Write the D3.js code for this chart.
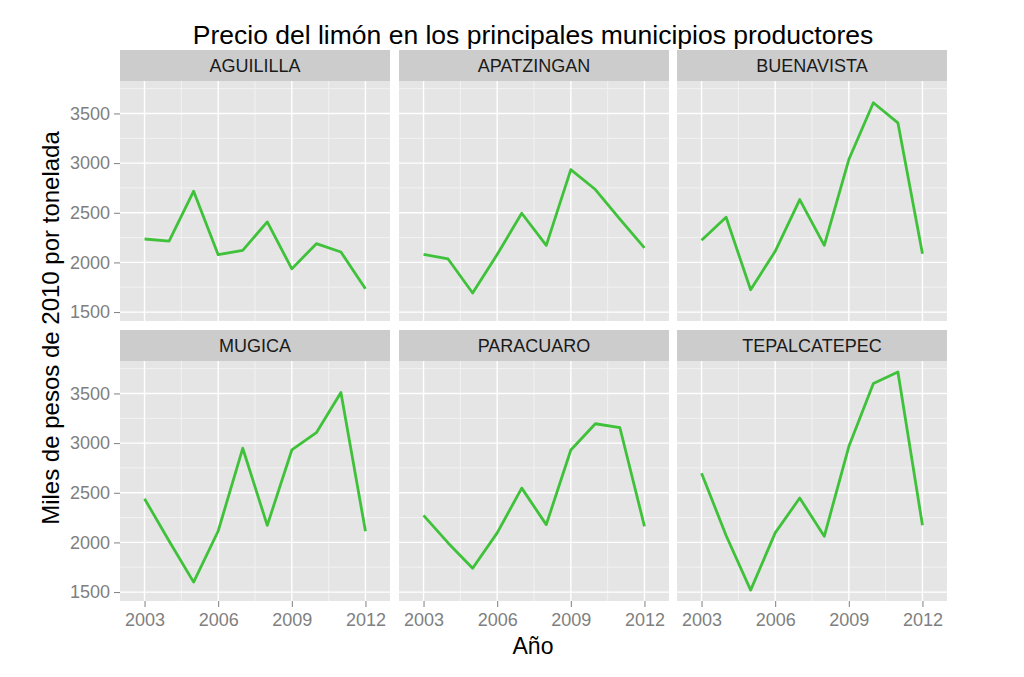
<!DOCTYPE html>
<html>
<head>
<meta charset="utf-8">
<script src="https://cdnjs.cloudflare.com/ajax/libs/d3/7.8.5/d3.min.js"></script>
<style>
  body { margin: 0; background: #fff; }
  text { font-family: "Liberation Sans", Arial, sans-serif; }
</style>
</head>
<body>
<div id="chart"></div>
<script>
// DATA -------------------------------------------------------------------------
const years = [2003, 2004, 2005, 2006, 2007, 2008, 2009, 2010, 2011, 2012]
const municipios = ["AGUILILLA", "APATZINGAN", "BUENAVISTA", "MUGICA", "PARACUARO", "TEPALCATEPEC"]

const aguililla    = [2236, 2215, 2717, 2078, 2122, 2408, 1935, 2189, 2105, 1735]
const apatzingan   = [2081, 2035, 1692, 2080, 2495, 2172, 2935, 2734, 2435, 2146]
const buenavista   = [2223, 2455, 1725, 2112, 2633, 2172, 3036, 3608, 3406, 2088]
const mugica       = [2440, 2015, 1600, 2115, 2948, 2172, 2931, 3105, 3510, 2112]
const paracuaro    = [2272, 1995, 1740, 2096, 2547, 2179, 2931, 3195, 3155, 2162]
const tepalcatepec = [2697, 2070, 1520, 2096, 2447, 2062, 2965, 3600, 3717, 2172]

const seriesValues = [aguililla, apatzingan, buenavista, mugica, paracuaro, tepalcatepec]

const yTicks = [1500, 2000, 2500, 3000, 3500]
const yMinor = [1750, 2250, 2750, 3250, 3750]
const xTicks = [2003, 2006, 2009, 2012]
const xMinor = [2004.5, 2007.5, 2010.5]

// LAYOUT -------------------------------------------------------------------------
const width = 1024, height = 677
const colX = [120, 399, 677]   // panel left edges
const panelW = 270
const rowY = [50, 330]         // strip top edges
const stripH = 31
const panelH = 240
const font = '"Liberation Sans", Arial, sans-serif'

const svg = d3.select("#chart").append("svg")
  .attr("width", width)
  .attr("height", height)

// Scales (shared across facets)
const allVals = seriesValues.flat()
const yMin = d3.min(allVals), yMax = d3.max(allVals)
const yPad = (yMax - yMin) * 0.05
const x = d3.scaleLinear().domain([2002, 2013]).range([0, panelW])
const y = d3.scaleLinear().domain([yMin - yPad, yMax + yPad]).range([panelH, 0])

const line = d3.line()
  .x((d, i) => x(years[i]))
  .y(d => y(d))

municipios.forEach((name, k) => {
  const col = k % 3, row = Math.floor(k / 3)
  const g = svg.append("g")
    .attr("transform", `translate(${colX[col]},${rowY[row]})`)

  // strip
  g.append("rect")
    .attr("width", panelW).attr("height", stripH)
    .attr("fill", "#cccccc")
  g.append("text")
    .attr("x", panelW / 2).attr("y", stripH / 2 + 6.5)
    .attr("text-anchor", "middle")
    .attr("font-size", 18)
    .attr("fill", "#1a1a1a")
    .text(name)

  const p = g.append("g").attr("transform", `translate(0,${stripH})`)
  p.append("rect")
    .attr("width", panelW).attr("height", panelH)
    .attr("fill", "#e5e5e5")

  // minor grid
  p.selectAll(".ymin").data(yMinor.filter(v => y(v) >= 0)).enter().append("line")
    .attr("x1", 0).attr("x2", panelW)
    .attr("y1", d => y(d)).attr("y2", d => y(d))
    .attr("stroke", "#f2f2f2").attr("stroke-width", 1)
  p.selectAll(".xmin").data(xMinor).enter().append("line")
    .attr("y1", 0).attr("y2", panelH)
    .attr("x1", d => x(d)).attr("x2", d => x(d))
    .attr("stroke", "#f2f2f2").attr("stroke-width", 1)

  // major grid
  p.selectAll(".ymaj").data(yTicks).enter().append("line")
    .attr("x1", 0).attr("x2", panelW)
    .attr("y1", d => y(d)).attr("y2", d => y(d))
    .attr("stroke", "#ffffff").attr("stroke-width", 1.4)
  p.selectAll(".xmaj").data(xTicks).enter().append("line")
    .attr("y1", 0).attr("y2", panelH)
    .attr("x1", d => x(d)).attr("x2", d => x(d))
    .attr("stroke", "#ffffff").attr("stroke-width", 1.4)

  // data line
  p.append("path")
    .datum(seriesValues[k])
    .attr("d", line)
    .attr("fill", "none")
    .attr("stroke", "#3fc23a")
    .attr("stroke-width", 2.8)
    .attr("stroke-linejoin", "round")

  // y axis on first column
  if (col === 0) {
    const ya = p.append("g")
      .call(d3.axisLeft(y).tickValues(yTicks).tickSize(6).tickPadding(4).tickFormat(d3.format("d")))
    ya.select(".domain").remove()
    ya.selectAll("line").attr("stroke", "#7f7f7f")
    ya.selectAll("text").attr("fill", "#7f7f7f").attr("font-size", 18)
      .style("font-family", font)
  }
  // x axis on bottom row
  if (row === 1) {
    const xa = p.append("g")
      .attr("transform", `translate(0,${panelH})`)
      .call(d3.axisBottom(x).tickValues(xTicks).tickSize(6).tickPadding(6).tickFormat(d3.format("d")))
    xa.select(".domain").remove()
    xa.selectAll("line").attr("stroke", "#7f7f7f")
    xa.selectAll("text").attr("fill", "#7f7f7f").attr("font-size", 18)
      .style("font-family", font)
  }
})

// TITLES -------------------------------------------------------------------------
svg.append("text")
  .attr("x", 533).attr("y", 44)
  .attr("text-anchor", "middle")
  .attr("font-size", 26.5)
  .attr("fill", "#000")
  .text("Precio del limón en los principales municipios productores")

svg.append("text")
  .attr("x", 533).attr("y", 654)
  .attr("text-anchor", "middle")
  .attr("font-size", 23)
  .attr("fill", "#000")
  .text("Año")

svg.append("text")
  .attr("transform", "translate(59,328) rotate(-90)")
  .attr("text-anchor", "middle")
  .attr("font-size", 24)
  .attr("fill", "#000")
  .text("Miles de pesos de 2010 por tonelada")
</script>
</body>
</html>
